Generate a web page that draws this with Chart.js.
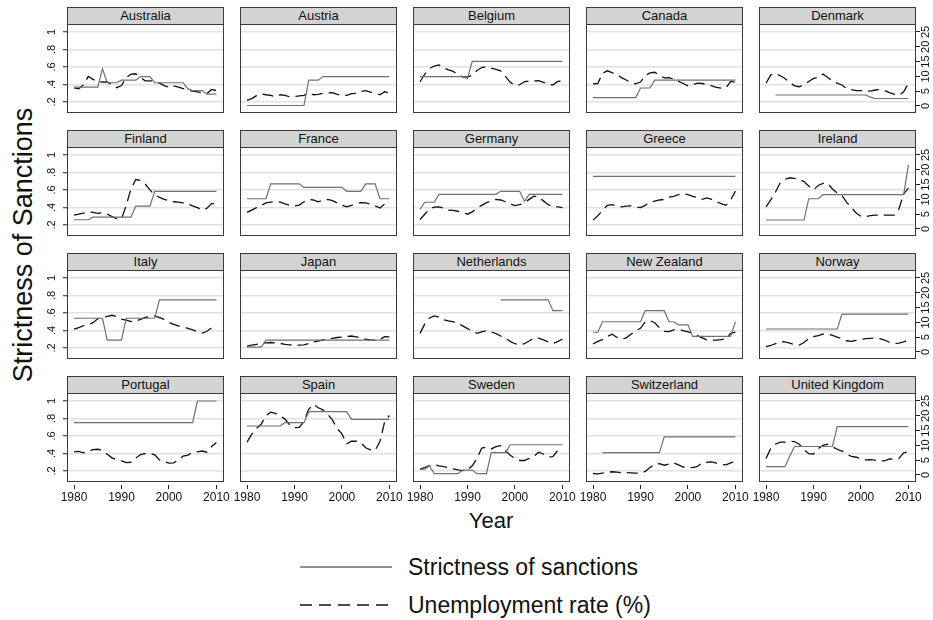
<!DOCTYPE html>
<html>
<head>
<meta charset="utf-8">
<title>Strictness of sanctions and unemployment, 1980-2010</title>
<script src="https://cdn.jsdelivr.net/npm/chart.js@4/dist/chart.umd.min.js"></script>
<style>
  html, body { margin: 0; padding: 0; background: #fff; }
  #page { position: relative; width: 933px; height: 620px; overflow: hidden;
          font-family: 'Liberation Sans', Arial, Helvetica, sans-serif; color: #111; }
  #page canvas { position: absolute; }
  .head { position: absolute; box-sizing: border-box; background: #d3d3d3; border: 1px solid #3a3a3a;
          font-size: 13px; line-height: 15px; text-align: center; white-space: nowrap; }
  .ytitle { position: absolute; left: -177px; top: 229px; width: 400px; height: 32px; line-height: 32px;
            text-align: center; font-size: 27px; transform: rotate(-90deg); }
  .xtitle { position: absolute; left: 291px; top: 508px; width: 400px; text-align: center;
            font-size: 22px; line-height: 26px; }
  .leg-line { position: absolute; left: 300px; width: 92px; height: 6px; }
  .leg-text { position: absolute; left: 408px; font-size: 23px; line-height: 26px; white-space: nowrap; }
</style>
</head>
<body>
<div id="page">
  <div class="ytitle">Strictness of Sanctions</div>
  <div class="xtitle">Year</div>
  <svg class="leg-line" style="top:564px" viewBox="0 0 92 6"><line x1="0" y1="3" x2="92" y2="3" stroke="#6e6e6e" stroke-width="1.5"/></svg>
  <div class="leg-text" style="top:554px">Strictness of sanctions</div>
  <svg class="leg-line" style="top:602px" viewBox="0 0 92 6"><line x1="0" y1="3" x2="92" y2="3" stroke="#111" stroke-width="1.5" stroke-dasharray="12 7"/></svg>
  <div class="leg-text" style="top:592px">Unemployment rate (%)</div>
</div>
<script>
// ---- data -------------------------------------------------------------
const years = [1980, 1981, 1982, 1983, 1984, 1985, 1986, 1987, 1988, 1989,
               1990, 1991, 1992, 1993, 1994, 1995, 1996, 1997, 1998, 1999,
               2000, 2001, 2002, 2003, 2004, 2005, 2006, 2007, 2008, 2009, 2010];

const countries = ['Australia', 'Austria', 'Belgium', 'Canada', 'Denmark',
                   'Finland', 'France', 'Germany', 'Greece', 'Ireland',
                   'Italy', 'Japan', 'Netherlands', 'New Zealand', 'Norway',
                   'Portugal', 'Spain', 'Sweden', 'Switzerland', 'United Kingdom'];

const leftTicks = [0.2, 0.4, 0.6, 0.8, 1];
const leftTickLabels = ['.2', '.4', '.6', '.8', '1'];
const rightTicks = [0, 5, 10, 15, 20, 25];
const rightTickLabels = ['0', '5', '10', '15', '20', '25'];
const xTicks = [1980, 1990, 2000, 2010];
const xTickLabels = ['1980', '1990', '2000', '2010'];

// strictness of sanctions index (left axis)
const sanctionsAustralia = [.37,.37,.37,.37,.37,.37,.58,.42,.42,.42,.45,.45,.45,.45,.49,.49,.49,.42,.42,.42,.42,.42,.42,.42,.35,.33,.33,.33,.29,.29,.29];
const sanctionsAustria = [.16,.16,.16,.16,.16,.16,.16,.16,.16,.16,.16,.16,.16,.45,.45,.45,.49,.49,.49,.49,.49,.49,.49,.49,.49,.49,.49,.49,.49,.49,.49];
const sanctionsBelgium = [.49,.49,.49,.49,.49,.49,.49,.49,.49,.49,.47,.665,.665,.665,.665,.665,.665,.665,.665,.665,.665,.665,.665,.665,.665,.665,.665,.665,.665,.665,.665];
const sanctionsCanada = [.25,.25,.25,.25,.25,.25,.25,.25,.25,.25,.36,.36,.36,.45,.45,.45,.45,.45,.45,.45,.45,.45,.45,.45,.45,.45,.45,.45,.45,.45,.45];
const sanctionsDenmark = [null,null,.28,.28,.28,.28,.28,.28,.28,.28,.28,.28,.28,.28,.28,.28,.28,.28,.28,.28,.28,.28,.255,.24,.24,.24,.24,.24,.24,.24,.24];
const sanctionsFinland = [.26,.26,.26,.26,.29,.29,.29,.29,.29,.29,.29,.29,.29,.415,.415,.415,.415,.585,.585,.585,.585,.585,.585,.585,.585,.585,.585,.585,.585,.585,.585];
const sanctionsFrance = [.50,.50,.50,.50,.50,.67,.67,.67,.67,.67,.67,.67,.63,.63,.63,.63,.63,.63,.63,.63,.63,.585,.585,.585,.585,.67,.67,.67,.50,.50,.50];
const sanctionsGermany = [.38,.46,.46,.46,.55,.55,.55,.55,.55,.55,.55,.55,.55,.55,.55,.55,.55,.585,.585,.585,.585,.585,.47,.55,.55,.55,.55,.55,.55,.55,.55];
const sanctionsGreece = [.755,.755,.755,.755,.755,.755,.755,.755,.755,.755,.755,.755,.755,.755,.755,.755,.755,.755,.755,.755,.755,.755,.755,.755,.755,.755,.755,.755,.755,.755,.755];
const sanctionsIreland = [.257,.257,.257,.257,.257,.257,.257,.257,.257,.50,.50,.50,.547,.547,.547,.547,.547,.547,.547,.547,.547,.547,.547,.547,.547,.547,.547,.547,.547,.547,.887];
const sanctionsItaly = [.54,.54,.54,.54,.54,.54,.54,.29,.29,.29,.29,.54,.54,.54,.54,.54,.54,.54,.75,.75,.75,.75,.75,.75,.75,.75,.75,.75,.75,.75,.75];
const sanctionsJapan = [.21,.21,.21,.21,.29,.29,.29,.29,.29,.29,.29,.29,.29,.29,.29,.29,.29,.29,.29,.29,.29,.29,.29,.29,.29,.29,.29,.29,.29,.29,.29];
const sanctionsNetherlands = [null,null,null,null,null,null,null,null,null,null,null,null,null,null,null,null,null,.75,.75,.75,.75,.75,.75,.75,.75,.75,.75,.75,.626,.626,.626];
const sanctionsNewZealand = [.38,.38,.50,.50,.50,.50,.50,.50,.50,.50,.50,.626,.626,.626,.626,.626,.50,.50,.465,.465,.465,.333,.333,.333,.333,.333,.333,.333,.333,.333,.50];
const sanctionsNorway = [.417,.417,.417,.417,.417,.417,.417,.417,.417,.417,.417,.417,.417,.417,.417,.417,.588,.588,.588,.588,.588,.588,.588,.588,.588,.588,.588,.588,.588,.588,.588];
const sanctionsPortugal = [.752,.752,.752,.752,.752,.752,.752,.752,.752,.752,.752,.752,.752,.752,.752,.752,.752,.752,.752,.752,.752,.752,.752,.752,.752,.752,1,1,1,1,1];
const sanctionsSpain = [.714,.714,.714,.714,.714,.714,.714,.714,.752,.752,.752,.752,.752,.878,.878,.878,.878,.878,.878,.878,.878,.878,.79,.79,.79,.79,.79,.79,.79,.79,.79];
const sanctionsSweden = [.22,.22,.26,.17,.17,.17,.17,.17,.17,.21,.21,.21,.17,.17,.17,.41,.41,.41,.41,.50,.50,.50,.50,.50,.50,.50,.50,.50,.50,.50,.50];
const sanctionsSwitzerland = [null,null,.41,.41,.41,.41,.41,.41,.41,.41,.41,.41,.41,.41,.41,.59,.59,.59,.59,.59,.59,.59,.59,.59,.59,.59,.59,.59,.59,.59,.59];
const sanctionsUnitedKingdom = [.25,.25,.25,.25,.25,.37,.48,.48,.48,.48,.48,.48,.48,.48,.48,.706,.706,.706,.706,.706,.706,.706,.706,.706,.706,.706,.706,.706,.706,.706,.706];

// unemployment rate in percent (right axis)
const unemploymentAustralia = [6.1,5.8,7.2,10.0,9.0,8.3,8.1,8.1,7.2,6.2,6.9,9.6,10.8,10.9,9.7,8.5,8.5,8.4,7.7,6.9,6.3,6.8,6.4,5.9,5.4,5.0,4.8,4.4,4.2,5.6,5.2];
const unemploymentAustria = [1.9,2.5,3.5,4.1,3.8,3.6,3.1,3.8,3.6,3.1,3.2,3.4,3.6,4.3,3.8,3.9,4.3,4.4,4.5,3.9,3.6,3.6,4.2,4.3,4.9,5.2,4.7,4.4,3.8,4.8,4.4];
const unemploymentBelgium = [8.2,10.8,12.6,13.5,13.9,12.9,12.2,11.7,10.6,9.8,9.8,10.4,12.0,13.0,13.3,12.8,12.4,11.9,10.0,8.0,7.0,7.2,8.2,8.4,8.5,8.6,8.0,7.4,7.1,8.3,8.4];
const unemploymentCanada = [7.5,7.6,11.0,11.9,11.3,10.7,9.6,8.8,7.8,7.5,8.1,10.3,11.2,11.4,10.4,9.5,9.6,9.1,8.3,7.6,6.8,7.2,7.7,7.6,7.2,6.8,6.3,6.0,6.1,8.3,8.0];
const unemploymentDenmark = [7.7,10.5,11.0,10.2,9.3,8.0,6.8,6.5,7.2,8.3,9.3,9.6,10.8,9.6,8.5,7.7,7.1,5.9,5.5,5.2,5.2,5.2,5.0,5.4,5.6,5.2,4.5,4.0,3.6,4.8,7.6];
const unemploymentFinland = [4.7,5.0,5.4,5.9,5.6,5.3,5.5,5.0,4.2,3.5,3.4,8.0,13.5,16.7,16.4,15.2,13.2,11.5,10.7,10.0,9.6,9.2,9.1,8.8,8.4,7.8,7.2,6.4,7.0,8.6,8.6];
const unemploymentFrance = [5.6,6.4,7.2,8.0,8.8,9.1,9.3,9.1,8.5,8.0,7.8,8.1,9.2,10.0,9.8,9.2,9.8,10.0,9.6,8.8,8.0,7.5,8.0,8.6,8.9,8.8,8.4,7.8,7.1,8.4,9.0];
const unemploymentGermany = [3.2,5.0,6.8,7.4,7.5,7.0,6.4,6.3,6.0,5.6,5.0,5.8,7.0,8.0,8.9,9.4,10.0,9.8,9.2,8.5,7.9,8.2,8.8,10.0,11.1,10.8,9.5,8.2,7.6,7.5,7.2];
const unemploymentGreece = [3.0,4.5,6.2,8.0,8.2,7.8,7.5,7.7,7.8,7.5,7.2,8.0,9.0,9.4,9.8,10.0,10.8,11.0,11.6,12.0,11.6,11.0,10.6,10.0,10.5,10.0,9.2,8.6,8.0,9.8,12.8];
const unemploymentIreland = [7.5,9.8,12.5,15.7,16.8,17.3,17.1,16.8,16.0,14.5,13.2,14.7,15.4,15.4,13.5,12.2,11.3,9.0,7.2,5.4,4.3,4.2,4.5,4.7,4.7,4.7,4.7,4.7,6.8,11.8,13.8];
const unemploymentItaly = [7.7,8.2,8.9,9.3,9.9,11.2,11.8,12.0,12.4,12.0,11.1,10.8,10.3,10.4,11.0,11.7,11.9,12.2,11.6,11.0,10.0,9.3,8.8,8.5,8.0,7.5,6.9,6.4,7.0,8.2,8.8];
const unemploymentJapan = [2.0,2.3,2.6,2.9,3.1,3.2,3.1,2.9,2.6,2.4,2.3,2.3,2.4,2.9,3.4,3.7,4.1,4.3,4.6,4.9,5.0,5.2,5.4,5.1,4.7,4.3,4.1,4.0,4.2,5.2,5.1];
const unemploymentNetherlands = [6.3,9.5,11.5,12.2,11.8,10.9,10.5,10.2,9.6,8.8,7.9,7.2,6.3,6.8,7.2,6.8,6.2,5.4,4.6,3.6,2.8,2.4,2.8,3.7,4.8,4.7,4.1,3.4,2.9,3.5,4.4];
const unemploymentNewZealand = [2.7,3.6,4.2,5.2,6.0,5.0,4.4,4.8,6.0,7.2,8.0,10.2,10.6,9.9,8.2,7.0,6.9,7.5,7.5,7.2,6.8,6.3,5.5,4.8,4.1,4.0,4.0,4.2,4.5,6.3,6.7];
const unemploymentNorway = [1.8,2.2,2.8,3.5,3.4,3.0,2.5,2.3,3.2,4.5,5.2,5.5,6.0,6.1,5.6,5.0,4.5,3.8,3.6,3.9,4.2,4.5,4.6,4.7,4.5,4.0,3.3,2.9,3.0,3.4,4.0];
const unemploymentPortugal = [7.8,8.0,7.5,7.9,8.6,8.7,8.4,7.0,5.8,5.1,4.8,4.2,4.3,5.7,6.9,7.2,7.3,6.8,5.1,4.5,4.0,4.1,5.1,6.4,6.7,7.7,7.8,8.1,7.7,9.6,11.0];
const unemploymentSpain = [11.1,13.8,15.8,17.2,20.1,21.2,20.8,19.9,18.9,16.9,16.0,16.1,18.1,22.2,23.9,22.7,22.0,20.5,18.6,15.6,13.9,10.5,11.4,11.4,10.9,9.2,8.5,8.3,11.3,18.0,20.1];
const unemploymentSweden = [2.0,2.5,3.2,3.5,3.1,2.8,2.6,2.1,1.7,1.5,1.7,3.1,5.6,9.1,9.4,8.8,9.6,9.9,8.2,6.7,5.6,4.9,4.9,5.6,6.3,7.7,7.1,6.1,6.2,8.3,8.6];
const unemploymentSwitzerland = [0.5,0.4,0.6,0.9,1.1,1.0,0.8,0.8,0.7,0.6,0.6,1.2,2.5,3.7,3.8,3.3,3.7,4.1,3.4,2.7,2.6,2.5,2.9,4.1,4.3,4.4,4.0,3.6,3.4,4.1,4.5];
const unemploymentUnitedKingdom = [5.6,9.0,10.4,11.1,11.1,11.4,11.3,10.4,8.6,7.2,7.1,8.9,10.0,10.4,9.5,8.7,8.1,7.0,6.3,6.0,5.5,5.1,5.2,5.0,4.8,4.8,5.4,5.3,5.6,7.5,7.8];

const sanctionSeries = [sanctionsAustralia, sanctionsAustria, sanctionsBelgium, sanctionsCanada, sanctionsDenmark,
  sanctionsFinland, sanctionsFrance, sanctionsGermany, sanctionsGreece, sanctionsIreland,
  sanctionsItaly, sanctionsJapan, sanctionsNetherlands, sanctionsNewZealand, sanctionsNorway,
  sanctionsPortugal, sanctionsSpain, sanctionsSweden, sanctionsSwitzerland, sanctionsUnitedKingdom];
const unemploymentSeries = [unemploymentAustralia, unemploymentAustria, unemploymentBelgium, unemploymentCanada, unemploymentDenmark,
  unemploymentFinland, unemploymentFrance, unemploymentGermany, unemploymentGreece, unemploymentIreland,
  unemploymentItaly, unemploymentJapan, unemploymentNetherlands, unemploymentNewZealand, unemploymentNorway,
  unemploymentPortugal, unemploymentSpain, unemploymentSweden, unemploymentSwitzerland, unemploymentUnitedKingdom];

// ---- layout of the 4 x 5 panel grid -------------------------------------
const COL_X = [67, 240, 413, 586, 759];
const ROW_Y = [24, 147, 270, 393];
const PLOT_W = 157, PLOT_H = 89, HEAD_H = 17;
const INK = '#111';

Chart.defaults.font.family = "'Liberation Sans', Arial, Helvetica, sans-serif";
Chart.defaults.color = INK;

// box around each plot region
const panelFrame = {
  id: 'panelFrame',
  afterDraw(chart) {
    const { ctx, chartArea: a } = chart;
    ctx.save();
    ctx.strokeStyle = '#3a3a3a';
    ctx.lineWidth = 1;
    ctx.strokeRect(Math.round(a.left) + 0.5, Math.round(a.top) + 0.5,
                   Math.round(a.right - a.left) - 1, Math.round(a.bottom - a.top) - 1);
    ctx.restore();
  }
};

// keep each plot region at its fixed size: no label overhang padding
const noOverhang = s => { s.paddingLeft = 0; s.paddingRight = 0; s.paddingTop = 0; s.paddingBottom = 0; };

const page = document.getElementById('page');

countries.forEach((name, i) => {
  const row = Math.floor(i / 5), col = i % 5;
  const bottomRow = row === 3;
  const padL = col === 0 ? 22 : 0;
  const padR = col === 4 ? 17 : 0;
  const padB = bottomRow ? 24 : 0;
  // room for the year labels that stick out past the plot edges
  const extraL = bottomRow && col !== 0 ? 10 : 0;
  const extraR = bottomRow && col !== 4 ? 10 : 0;

  const head = document.createElement('div');
  head.className = 'head';
  head.textContent = name;
  head.style.left = COL_X[col] + 'px';
  head.style.top = (ROW_Y[row] - HEAD_H) + 'px';
  head.style.width = PLOT_W + 'px';
  head.style.height = (HEAD_H + 1) + 'px';
  page.appendChild(head);

  const cv = document.createElement('canvas');
  const w = extraL + padL + PLOT_W + padR + extraR, h = PLOT_H + padB;
  cv.width = w; cv.height = h;
  cv.style.width = w + 'px'; cv.style.height = h + 'px';
  cv.style.left = (COL_X[col] - padL - extraL) + 'px';
  cv.style.top = ROW_Y[row] + 'px';
  page.appendChild(cv);

  const sanc = sanctionSeries[i], unemp = unemploymentSeries[i];

  new Chart(cv, {
    type: 'line',
    data: {
      datasets: [
        {
          label: 'Strictness of sanctions',
          data: years.map((yr, k) => ({ x: yr, y: sanc[k] })),
          yAxisID: 'y',
          borderColor: '#707070',
          borderWidth: 1.2,
          pointRadius: 0,
          tension: 0,
          spanGaps: false
        },
        {
          label: 'Unemployment rate (%)',
          data: years.map((yr, k) => ({ x: yr, y: unemp[k] })),
          yAxisID: 'y2',
          borderColor: INK,
          borderWidth: 1.3,
          borderDash: [11, 6],
          pointRadius: 0,
          tension: 0
        }
      ]
    },
    options: {
      responsive: false,
      animation: false,
      devicePixelRatio: 1,
      events: [],
      layout: { padding: { left: extraL, right: extraR, top: 0, bottom: 0 } },
      plugins: { legend: { display: false }, tooltip: { enabled: false }, title: { display: false } },
      scales: {
        x: {
          type: 'linear',
          min: 1978.52, max: 2011.6,
          display: bottomRow,
          afterBuildTicks: s => { s.ticks = xTicks.map(v => ({ value: v })); },
          afterFit: s => { s.height = padB; noOverhang(s); },
          border: { display: false },
          grid: { drawOnChartArea: false, drawTicks: true, tickLength: 7, tickColor: '#222',
                  tickWidth: 1, tickBorderDash: [0, 3, 4, 30] },
          ticks: { autoSkip: false, minRotation: 0, maxRotation: 0, padding: 1,
                   font: { size: 12 }, color: INK,
                   callback: (v, k) => xTickLabels[k] }
        },
        y: {
          type: 'linear',
          position: 'left',
          min: 0.0743, max: 1.0914,
          afterBuildTicks: s => { s.ticks = leftTicks.map(v => ({ value: v })); },
          afterFit: s => { s.width = padL; noOverhang(s); },
          border: { display: false },
          grid: { color: '#e2e2e2', lineWidth: 1.5, drawTicks: col === 0, tickLength: 10,
                  tickColor: '#222', tickWidth: 1, tickBorderDash: [0, 6, 4, 30] },
          ticks: { display: col === 0, autoSkip: false, minRotation: 90, maxRotation: 90,
                   crossAlign: 'center', padding: 0, font: { size: 11 }, color: INK,
                   callback: (v, k) => leftTickLabels[k] }
        },
        y2: {
          type: 'linear',
          position: 'right',
          min: -2.365, max: 27.7,
          display: col === 4,
          afterBuildTicks: s => { s.ticks = rightTicks.map(v => ({ value: v })); },
          afterFit: s => { s.width = padR; noOverhang(s); },
          border: { display: false },
          grid: { drawOnChartArea: false, drawTicks: true, tickLength: 4, tickColor: '#222', tickWidth: 1 },
          ticks: { autoSkip: false, minRotation: 90, maxRotation: 90, crossAlign: 'center',
                   padding: 0, font: { size: 11 }, color: INK,
                   callback: (v, k) => rightTickLabels[k] }
        }
      }
    },
    plugins: [panelFrame]
  });
});
</script>
</body>
</html>
